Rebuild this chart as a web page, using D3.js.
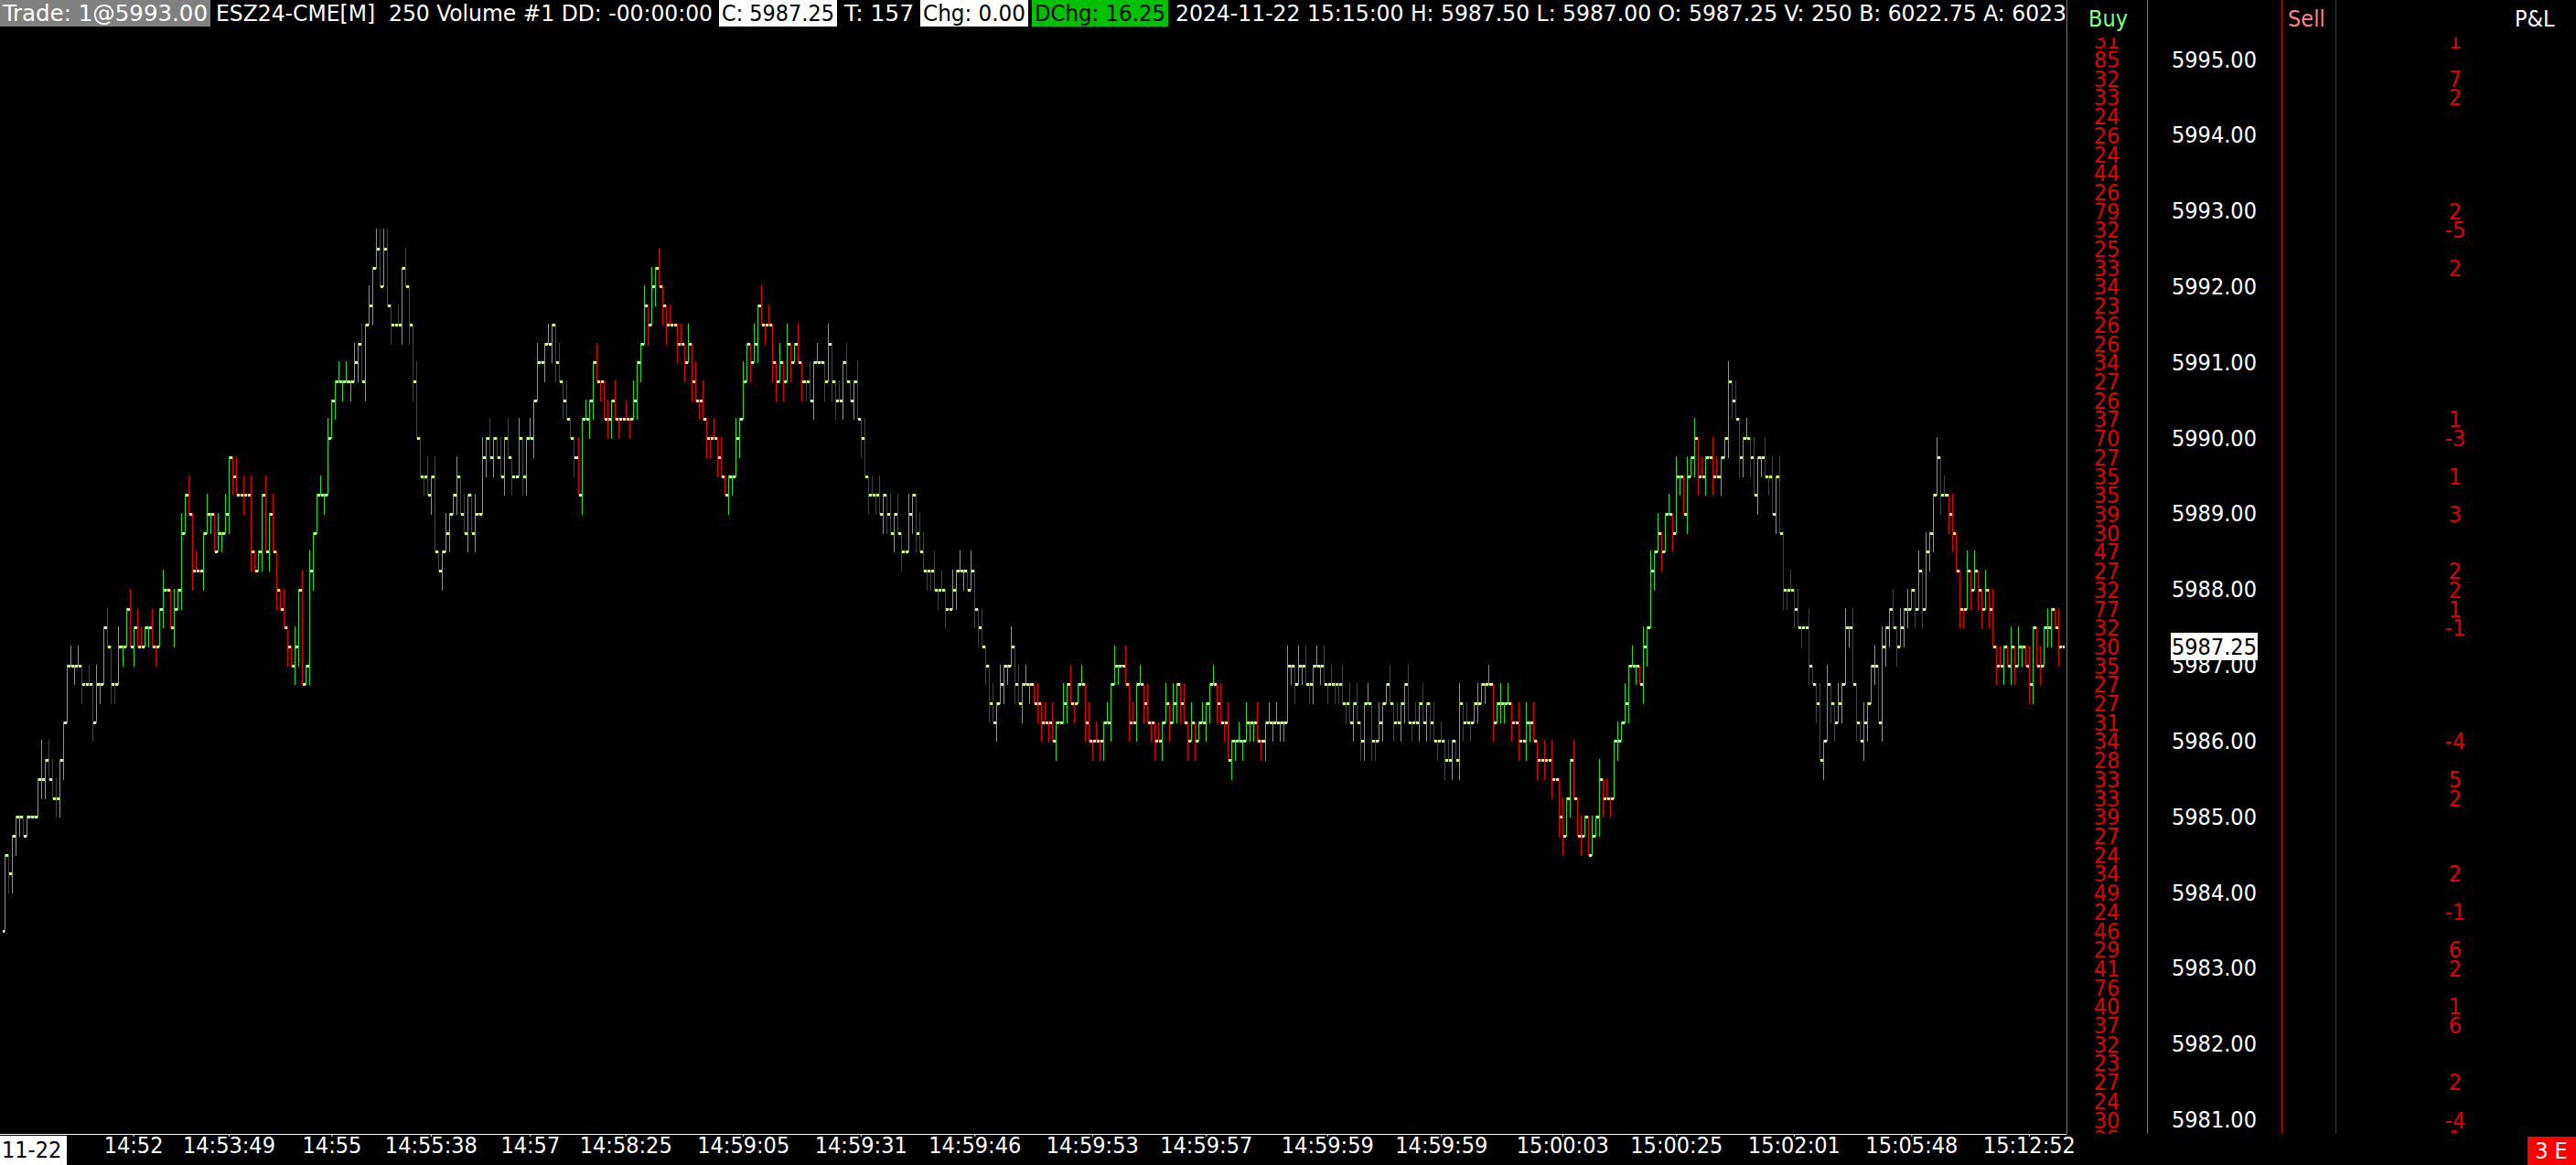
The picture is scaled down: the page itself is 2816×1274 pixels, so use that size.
<!DOCTYPE html>
<html>
<head>
<meta charset="utf-8">
<script src="https://cdn.jsdelivr.net/npm/d3@7"></script>
<style>
  html, body { margin: 0; padding: 0; background: #000; overflow: hidden; }
  svg { display: block; }
  text { font-family: "DejaVu Sans Condensed", "DejaVu Sans", sans-serif; font-stretch: condensed; white-space: pre; }
</style>
</head>
<body>
<svg id="chart" width="2816" height="1274"></svg>
<script>
// Bar closes are stored in ticks of 0.25 above basePrice; open = previous close
const basePrice = 5983.00;
const firstOpen = 2;

const closesA = [6,5,7,8,8,7,8,8,8,10,10,11,10,9,9,11,13,
  16,16,16,16,15,15,15,13,15,15,18,17,15,15,17,17,19,17,18,17,17,18,18,17,17,19,20,20,18,19,20,23,25,24,21,21,21,23,24,24,22,23,23,24,27,26,25,25,25,25,22,21,22,25,22,24,22,20,19,18,17,16,17,20,15,16,21,23,25,25,25,28,30,31,31,31,31,31,32,33,31,34,35,37,38,36,38,35,34,34,34,37,36,34,31,28,26,26,25,26,22,21,22,23,24,25,26,24,23,25,23,24,24,27,28,27,28,27,26,28,27,26,26,28,26,28,28,30,32,32,33,33,34,32,31,30,29,28,27,25,29,29,30,32,31,31,29,29,30,29,29,29,29,29,30,32,33,35,34,36,37,36,35,34,34,34,33,33,32,33,31];
const closesB = [30,30,29,28,28,28,27,26,25,26,26,28,29,31,33,32,33,35,34,34,34,32,31,32,31,33,32,33,32,31,31,30,32,32,32,31,33,31,30,30,32,31,30,31,29,28,26,25,25,25,24,25,24,23,24,23,22,22,24,25,23,22,21,21,21,20,20,20,19,19,20,21,21,21,20,21,19,18,17,16,14,13,14,15,16,16,17,15,14,15,15,15,14,14,13,13,13,12,13,13,14,15,14,14,15,15,13,12,12,12,12,13,13,15,16,16,16,15,13,13,15,15,14,13,13,12,12,13,14,13,14,15,14,13,12,13,12,13,13,14,15,15,14,13,13,11,12,12,12,12,13,13,13,12,12,13,13,13,13,13,13,16,16,15,16,16,15,15,16,16,16,15,15,15,15,15,14,14,13,14,13,12,14,14,12];
const closesC = [12,13,14,15,14,13,13,14,15,13,13,13,14,13,14,13,12,12,12,11,11,12,11,14,13,13,13,14,14,15,15,15,13,14,14,14,14,13,13,12,12,13,13,12,11,11,11,11,10,10,8,7,9,11,9,7,7,8,6,7,8,10,9,9,9,12,12,13,14,16,16,16,15,17,18,21,22,23,22,24,24,23,26,26,24,26,27,28,26,26,27,27,26,26,27,28,31,30,29,27,28,28,27,25,27,27,26,26,24,26,23,20,20,20,19,18,18,18,16,15,14,11,12,15,14,13,14,15,18,18,15,13,12,13,14,16,16,13,17,18,19,18,17,18,19,19,20,19,21,19,22,23,25,27,25,25,24,23,21,19,19,21,20,21,20,19,20,19,17,16,16,17,16,17,16,17,17,16,15,18,16,16,18,18,19,18,17,17];

// ticks the bar range reaches beyond open/close
const wickUp = (
  "0000000000" + "2011100010" + "1001010010" + "0100101100" + "1001001010" + "1010010010" + "1001010100" + "0101001001" + "0101001010" + "0101010101" +
  "0111100101" + "0010010100" + "1001010010" + "1010010100" + "1001010010" + "0101001010" + "0100101001" + "0100101010" + "01001010" +
  "1010010100" + "0101001010" + "1001010010" + "0101001001" + "0100101010" + "1001010010" + "0110010100" + "1010010010" + "0101001010" + "1001010100" +
  "1010010101" + "0010100101" + "0101001010" + "1001010010" + "0101010010" + "1001001010" + "0100101001" + "0101001010" + "10010" +
  "0100101001" + "0101001010" + "1001010010" + "0100101001" + "0101001010" + "0100101001" + "0101001010" + "1001010100" + "1010010101" + "0011001010" +
  "0101001010" + "1001010010" + "0101001010" + "1001001010" + "0101010010" + "1001010100" + "0101001010" + "1001010010" + "01010010"
).split("").map(Number);
const wickDn = (
  "0111100000" + "1100111001" + "0100101001" + "1010010001" + "0101001010" + "0100101001" + "0110010100" + "1010100101" + "1001100100" + "1010101010" +
  "1000010010" + "1100101001" + "0101001010" + "0101001010" + "0110100101" + "1010010101" + "1010110100" + "1011010101" + "10010101" +
  "0101101001" + "1010010101" + "0110101001" + "1010010110" + "1001010101" + "0110101001" + "1001101010" + "0101001101" + "1010110101" + "0101101010" +
  "0101001010" + "1101010010" + "1010110101" + "0110101001" + "1010101101" + "0110110101" + "1011010110" + "1010110101" + "01101" +
  "1010010110" + "1010110101" + "0101101010" + "1010110101" + "0110101010" + "1101001000" + "0110101001" + "0101101010" + "0101010110" + "1010101101" +
  "1010110101" + "0110101010" + "1010110101" + "0101101011" + "1010110101" + "0110101101" + "1010110101" + "0101101011" + "01011010"
).split("").map(Number);

const priceLabels = [5995,5994,5993,5992,5991,5990,5989,5988,5987,5986,5985,5984,5983,5982,5981];

const timeLabels = ["14:52","14:53:49","14:55","14:55:38","14:57","14:58:25","14:59:05","14:59:31","14:59:46",
  "14:59:53","14:59:57","14:59:59","14:59:59","15:00:03","15:00:25","15:02:01","15:05:48","15:12:52"];
const timeBars = [35,61,89,116,143,169,201,233,264,296,327,360,391,424,455,487,519,551];

// per-price volume column, from 5995.25 down in 0.25 steps
const volTop = 5995.25;
const volumes = [31,85,32,33,24,26,24,44,26,79,32,25,33,
  34,23,26,26,34,27,26,37,70,27,35,35,39,30,
  47,27,32,77,32,30,35,27,27,31,34,28,33,33,39,
  27,24,34,49,
  24,46,29,41,76,40,37,32,23,27,24,30,35];

const pnlPrices = [5995.25,5994.75,5994.50,5993.00,5992.75,5992.25,5990.25,5990.00,5989.50,5989.00,5988.25,5988.00,5987.75,
  5987.50,5986.00,5985.50,5985.25,5984.25,5983.75,5983.25,5983.00,5982.50,5982.25,5981.50,5981.00,5980.75];
const pnlValues = [1,7,2,2,-5,2,1,-3,1,3,2,2,1,-1,-4,5,2,2,-1,6,2,1,6,2,-4,1];

const headerTexts = ["Trade: 1@5993.00", "ESZ24-CME[M]  250 Volume #1 DD: -00:00:00", "C: 5987.25", "T: 157",
  "Chg: 0.00", "DChg: 16.25", "2024-11-22 15:15:00 H: 5987.50 L: 5987.00 O: 5987.25 V: 250 B: 6022.75 A: 6023.00"];

// ---------------------------------------------------------------
const svg = d3.select("#chart");
const fontSize = 25;
const axisY = 1240;
const plotRight = 2258;

const closes = closesA.concat(closesB, closesC);
const price = t => basePrice + t * 0.25;

const x = d3.scaleLinear().domain([0, closes.length - 1]).range([5, 2254]);
const y = d3.scaleLinear().domain([5981, 5995]).range([1224.6, 65]);

const bars = closes.map((c, i) => {
  const o = i ? closes[i - 1] : firstOpen;
  return {
    i, o, c,
    hi: Math.max(o, c) + (wickUp[i] || 0),
    lo: Math.min(o, c) - (wickDn[i] || 0)
  };
});
let lastUp = true;
bars.forEach(b => {
  b.up = b.c > b.o ? true : (b.c < b.o ? false : lastUp);
  lastUp = b.up;
});

const defs = svg.append("defs");
defs.append("clipPath").attr("id", "plotClip")
  .append("rect").attr("x", 0).attr("y", 30).attr("width", plotRight).attr("height", axisY - 30);
defs.append("clipPath").attr("id", "headClip")
  .append("rect").attr("x", 0).attr("y", 0).attr("width", plotRight).attr("height", 30);
defs.append("clipPath").attr("id", "ladderClip")
  .append("rect").attr("x", plotRight).attr("y", 41).attr("width", 2816 - plotRight).attr("height", axisY - 41);

// price bars
const plot = svg.append("g").attr("clip-path", "url(#plotClip)").attr("shape-rendering", "crispEdges");
const cx = d => Math.round(x(d.i));
const cy = t => Math.round(y(price(t)));

plot.selectAll(".hl").data(bars).join("rect")
  .attr("x", d => cx(d))
  .attr("y", d => cy(d.hi) - 1)
  .attr("width", 1)
  .attr("height", d => cy(d.lo) - cy(d.hi) + 2)
  .attr("fill", d => d.up ? "#22dd22" : "#e00000");

plot.selectAll(".op").data(bars).join("rect")
  .attr("x", d => cx(d) - 2)
  .attr("y", d => cy(d.o) - 1)
  .attr("width", 2).attr("height", 3)
  .attr("fill", "#c8ff8c");

plot.selectAll(".cl").data(bars).join("rect")
  .attr("x", d => cx(d) + 1)
  .attr("y", d => cy(d.c) - 1)
  .attr("width", 2).attr("height", 3)
  .attr("fill", "#c8ff8c");

// header line
const head = svg.append("g").attr("clip-path", "url(#headClip)").attr("font-size", fontSize);
const headLayout = [
  { x: 0, w: 230, bg: "#808080", fg: "#fff" },
  { x: 236, w: 543, bg: null, fg: "#fff" },
  { x: 786, w: 129, bg: "#fff", fg: "#000" },
  { x: 923, w: 76, bg: null, fg: "#fff" },
  { x: 1006, w: 118, bg: "#fff", fg: "#000" },
  { x: 1128, w: 149, bg: "#00c000", fg: "#000" },
  { x: 1285, w: null, bg: null, fg: "#fff" }
];
headLayout.forEach((h, k) => {
  if (h.bg) head.append("rect").attr("x", h.x).attr("y", 0).attr("width", h.w).attr("height", 29).attr("fill", h.bg);
  const t = head.append("text").attr("x", h.x + (h.bg ? 3 : 0)).attr("y", 23).attr("fill", h.fg).text(headerTexts[k]);
  if (h.w) {
    t.attr("textLength", h.w - (h.bg ? 6 : 0)).attr("lengthAdjust", "spacingAndGlyphs");
  } else {
    // last segment runs under the ladder; "... A: 6023" reaches the column border
    const s = headerTexts[k];
    const node = t.node();
    const full = node.getComputedTextLength();
    const pre = node.getSubStringLength(0, s.indexOf("A: 6023") + 7);
    t.attr("textLength", full * (2259 - h.x) / pre).attr("lengthAdjust", "spacingAndGlyphs");
  }
});

// right panel column borders and titles
[[2259, "#22b022"], [2347, "#22b022"], [2494, "#cc0000"], [2553, "#cc0000"]].forEach(([lx, col]) => {
  svg.append("line").attr("x1", lx + 0.5).attr("x2", lx + 0.5).attr("y1", 0).attr("y2", axisY)
    .attr("stroke", col).attr("stroke-width", 1);
});
svg.append("text").attr("x", 2283).attr("y", 29).attr("font-size", fontSize).attr("fill", "#80ff80").text("Buy");
svg.append("text").attr("x", 2501).attr("y", 29).attr("font-size", fontSize).attr("fill", "#ff8080").text("Sell");
svg.append("text").attr("x", 2749).attr("y", 29).attr("font-size", fontSize).attr("fill", "#fff").text("P&L");

// volume and P&L columns
const ladder = svg.append("g").attr("clip-path", "url(#ladderClip)").attr("font-size", fontSize).attr("fill", "#e00000");
ladder.selectAll(".vol").data(volumes).join("text")
  .attr("x", 2303).attr("y", (d, k) => y(volTop - k * 0.25)).attr("dy", "0.36em")
  .attr("text-anchor", "middle").text(d => d);
ladder.selectAll(".pnl").data(pnlValues).join("text")
  .attr("x", 2684).attr("y", (d, k) => y(pnlPrices[k])).attr("dy", "0.36em")
  .attr("text-anchor", "middle").text(d => d);

// price scale
const yAxis = svg.append("g").attr("transform", "translate(2371,0)")
  .call(d3.axisRight(y).tickValues(priceLabels).tickSize(0).tickPadding(3).tickFormat(d3.format(".2f")));
yAxis.select(".domain").remove();
yAxis.attr("font-family", null).attr("font-size", fontSize);
yAxis.selectAll("text").attr("fill", "#fff");

// current price marker
const lastPrice = price(closes[closes.length - 1]);
svg.append("rect").attr("x", 2373).attr("y", y(lastPrice) - 15).attr("width", 95).attr("height", 30).attr("fill", "#fff");
svg.append("text").attr("x", 2374).attr("y", y(lastPrice)).attr("dy", "0.36em")
  .attr("font-size", fontSize).attr("fill", "#000").text(d3.format(".2f")(lastPrice));

// time axis
svg.append("line").attr("x1", 0).attr("x2", plotRight + 1).attr("y1", axisY + 0.5).attr("y2", axisY + 0.5)
  .attr("stroke", "#fff").attr("stroke-width", 1);
const xAxis = svg.append("g").attr("transform", `translate(0,${axisY})`)
  .call(d3.axisBottom(x).tickValues(timeBars).tickSize(3).tickPadding(0).tickFormat((d, k) => timeLabels[k]));
xAxis.select(".domain").remove();
xAxis.attr("font-family", null).attr("font-size", fontSize);
xAxis.selectAll("line").attr("stroke", "#fff");
xAxis.selectAll("text").attr("fill", "#fff");

svg.append("rect").attr("x", 0).attr("y", 1242).attr("width", 73).attr("height", 32).attr("fill", "#fff");
svg.append("text").attr("x", 2).attr("y", 1266).attr("font-size", fontSize).attr("fill", "#000").text("11-22");

svg.append("rect").attr("x", 2763).attr("y", 1243).attr("width", 53).attr("height", 31).attr("fill", "#ff0000");
svg.append("text").attr("x", 2789).attr("y", 1267).attr("font-size", fontSize).attr("fill", "#fff")
  .attr("text-anchor", "middle").text("3 E");
</script>
</body>
</html>
